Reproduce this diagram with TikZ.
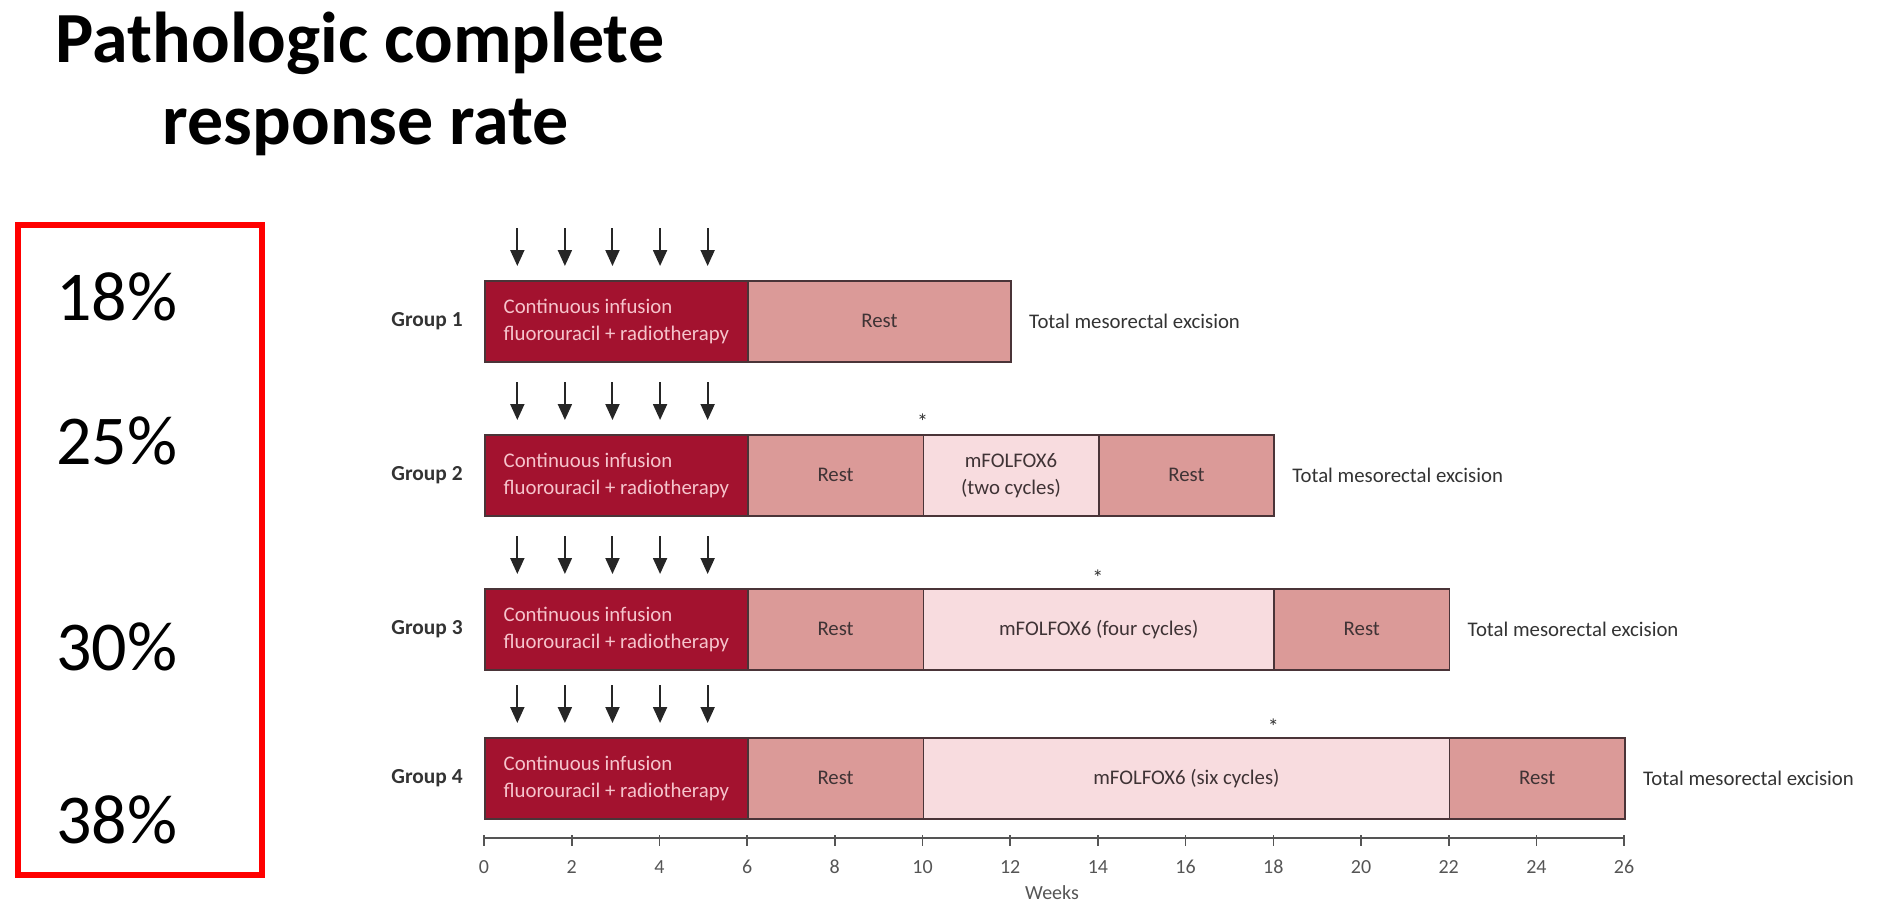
\documentclass[tikz,border=0pt]{standalone}
\usepackage{fontspec}
\setmainfont{Carlito}
\usetikzlibrary{arrows.meta}
\definecolor{crim}{HTML}{A3122F}
\definecolor{restc}{HTML}{DB9A98}
\definecolor{folc}{HTML}{F8DCDF}
\definecolor{edgec}{HTML}{4A3438}
\definecolor{citext}{HTML}{F6C4CC}
\definecolor{dtext}{HTML}{3F3335}
\definecolor{gtext}{HTML}{333333}
\definecolor{axc}{HTML}{555555}
\newcommand{\seg}[6]{\node[#5, minimum width={(#3-#2)*21.925pt}] (#1) at ({484+43.85*#2},#4) {#6};}
\begin{document}
\begin{tikzpicture}[x=0.5pt,y=-0.5pt,
  seg/.style={draw=edgec, line width=0.8pt, inner sep=0pt, minimum height=40.5pt, anchor=north west,
    font=\fontsize{10.4}{13.5}\selectfont, align=center},
  ci/.style={seg, fill=crim, text=citext, align=left},
  rest/.style={seg, fill=restc, text=dtext},
  fol/.style={seg, fill=folc, text=dtext},
  glabel/.style={anchor=east, font=\bfseries\fontsize{10.7}{13}\selectfont, text=gtext, inner sep=0pt},
  tme/.style={anchor=west, font=\fontsize{10.4}{13}\selectfont, text=gtext, inner sep=0pt},
  pct/.style={anchor=west, font=\fontsize{35}{40}\selectfont, inner sep=0pt},
  ttl/.style={anchor=base, font=\bfseries\fontsize{36}{40}\selectfont, inner sep=0pt},
  arr/.style={line width=1pt, draw=black!85, -{Triangle[length=8pt,width=7pt]}},
  ast/.style={anchor=base, font=\fontsize{11}{12}\selectfont, text=gtext, inner sep=0pt},
  axis/.style={line width=0.8pt, draw=axc},
  ticklab/.style={font=\fontsize{10}{12}\selectfont, text=axc, inner sep=0pt},
]
\useasboundingbox (0,0) rectangle (1878,918);

% title
\node[ttl] (t1) at (360,62) {Pathologic complete};
\node[ttl] (t2) at (366,144) {response rate};

% red box with rates
\node[draw=red, line width=3pt, minimum width=122pt, minimum height=325pt, anchor=north west, inner sep=0pt] (box) at (15,222) {};
\node[pct] (p1) at (56,297) {18\%};
\node[pct] (p2) at (56,441) {25\%};
\node[pct] (p3) at (56,647) {30\%};
\node[pct] (p4) at (56,820) {38\%};

% arrows
\foreach \g/\t in {1/280,2/434,3/588,4/737}{
  \foreach \i in {0,...,4}{
    \coordinate (as\g\i) at ({484+43.85*(0.76+1.085*\i)},{\t-52});
    \coordinate (ae\g\i) at ({484+43.85*(0.76+1.085*\i)},{\t-14});
    \draw[arr] (as\g\i) -- (ae\g\i);
  }
}

% Group 1
\seg{g1a}{0}{6}{280}{ci}{Continuous infusion\\fluorouracil + radiotherapy}
\seg{g1b}{6}{12}{280}{rest}{Rest}
\node[glabel] (g1l) at ([xshift=-10.5pt]g1a.west) {Group 1};
\node[tme] (g1t) at ([xshift=8.5pt]g1b.east) {Total mesorectal excision};

% Group 2
\seg{g2a}{0}{6}{434}{ci}{Continuous infusion\\fluorouracil + radiotherapy}
\seg{g2b}{6}{10}{434}{rest}{Rest}
\seg{g2c}{10}{14}{434}{fol}{mFOLFOX6\\(two cycles)}
\seg{g2d}{14}{18}{434}{rest}{Rest}
\node[glabel] (g2l) at ([xshift=-10.5pt]g2a.west) {Group 2};
\node[tme] (g2t) at ([xshift=8.5pt]g2d.east) {Total mesorectal excision};
\node[ast] (s2) at ({484+43.85*10},{434-5}) {*};

% Group 3
\seg{g3a}{0}{6}{588}{ci}{Continuous infusion\\fluorouracil + radiotherapy}
\seg{g3b}{6}{10}{588}{rest}{Rest}
\seg{g3c}{10}{18}{588}{fol}{mFOLFOX6 (four cycles)}
\seg{g3d}{18}{22}{588}{rest}{Rest}
\node[glabel] (g3l) at ([xshift=-10.5pt]g3a.west) {Group 3};
\node[tme] (g3t) at ([xshift=8.5pt]g3d.east) {Total mesorectal excision};
\node[ast] (s3) at ({484+43.85*14},{588-3}) {*};

% Group 4
\seg{g4a}{0}{6}{737}{ci}{Continuous infusion\\fluorouracil + radiotherapy}
\seg{g4b}{6}{10}{737}{rest}{Rest}
\seg{g4c}{10}{22}{737}{fol}{mFOLFOX6 (six cycles)}
\seg{g4d}{22}{26}{737}{rest}{Rest}
\node[glabel] (g4l) at ([xshift=-10.5pt]g4a.west) {Group 4};
\node[tme] (g4t) at ([xshift=8.5pt]g4d.east) {Total mesorectal excision};
\node[ast] (s4) at ({484+43.85*18},{737-3}) {*};

% axis
\coordinate (axL) at (484,838);
\coordinate (axR) at ({484+43.85*26},838);
\draw[axis] (axL) -- (axR);
\foreach \w in {0,2,...,26}{
  \coordinate (tt\w) at ({484+43.85*\w},835);
  \coordinate (tb\w) at ({484+43.85*\w},846);
  \draw[axis] (tt\w) -- (tb\w);
  \node[ticklab] (tl\w) at ({484+43.85*\w},867) {\w};
}
\node[ticklab] (wk) at (1052,893) {Weeks};
\end{tikzpicture}
\end{document}
